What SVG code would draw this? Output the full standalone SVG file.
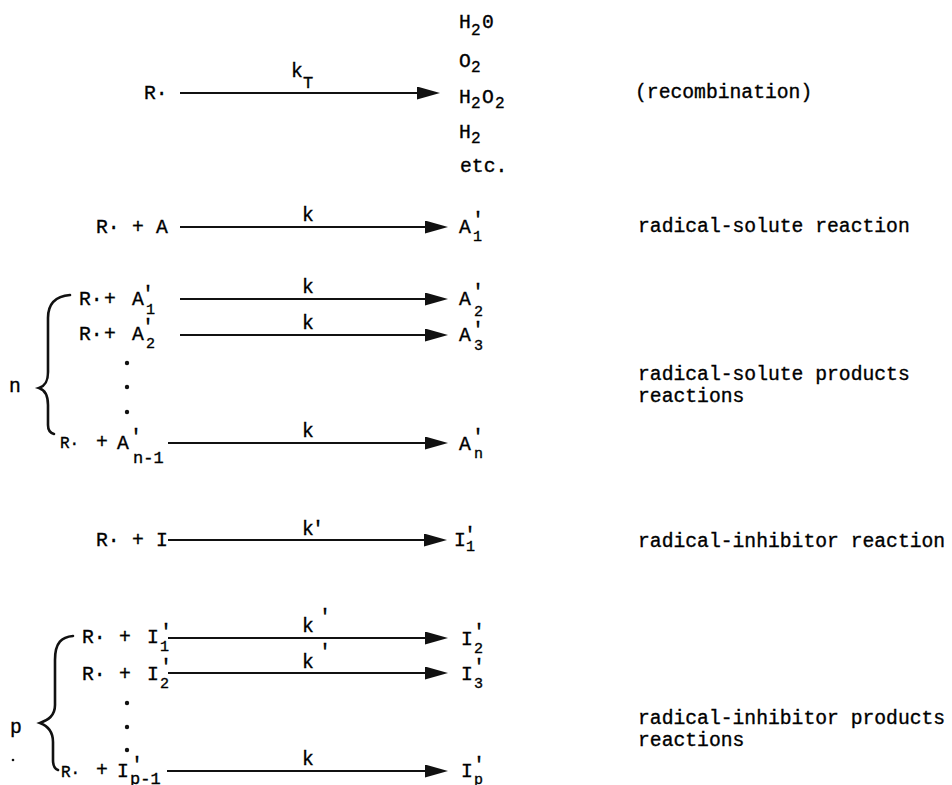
<svg xmlns="http://www.w3.org/2000/svg" width="952" height="785" viewBox="0 0 952 785">
<style>
text{font-family:"Liberation Mono","DejaVu Sans Mono",monospace;fill:#000;stroke:#000;stroke-width:0.35;font-size:19.7px}
.s{font-size:15px}
.m{font-size:17px}
.sm{font-size:16px}
.pr{font-size:20px}
.arr{stroke:#111;stroke-width:2.2;fill:none;marker-end:url(#ah)}
.br{stroke:#111;stroke-width:2.6;fill:none;stroke-linecap:round}
.dot{fill:#111}
</style>
<defs>
<marker id="ah" markerUnits="userSpaceOnUse" markerWidth="23" markerHeight="13" refX="3" refY="6.5" orient="auto">
<path d="M0,0 L23,6.5 L0,13 z" fill="#111"/>
</marker>
</defs>
<rect width="952" height="785" fill="#fff"/>

<g id="connectors">
<line class="arr" x1="180" y1="93" x2="420" y2="93"/>
<line class="arr" x1="180" y1="227" x2="428" y2="227"/>
<line class="arr" x1="180" y1="299" x2="428" y2="299"/>
<line class="arr" x1="180" y1="335" x2="428" y2="335"/>
<line class="arr" x1="168" y1="443" x2="428" y2="443"/>
<line class="arr" x1="168" y1="540" x2="427" y2="540"/>
<line class="arr" x1="168" y1="638" x2="428" y2="638"/>
<line class="arr" x1="168" y1="673" x2="428" y2="673"/>
<line class="arr" x1="167" y1="771" x2="428" y2="771"/>
</g>

<g id="rate-constants">
<text x="291" y="77">k</text><text class="m" x="303" y="88">T</text>
<text x="302" y="221">k</text>
<text x="302" y="293">k</text>
<text x="302" y="329">k</text>
<text x="302" y="437">k</text>
<text x="302" y="535">k</text><text class="pr" x="312" y="535">'</text>
<text x="302" y="632">k</text><text class="pr" x="319" y="623">'</text>
<text x="302" y="668">k</text><text class="pr" x="319" y="658">'</text>
<text x="302" y="765">k</text>
</g>

<g id="recombination-reactant"><text x="144" y="99">R·</text></g>
<g id="recombination-products">
<text x="459" y="28">H</text><text class="sm" x="471" y="35">2</text><text x="482" y="28">0</text>
<text x="459" y="67">O</text><text class="sm" x="471" y="72">2</text>
<text x="459" y="103">H</text><text class="sm" x="471" y="108">2</text><text x="482" y="103">O</text><text class="sm" x="495" y="108">2</text>
<text x="459" y="138">H</text><text class="sm" x="471" y="143">2</text>
<text x="460" y="172">etc.</text>
</g>
<g id="label-recombination"><text x="635" y="98">(recombination)</text></g>

<g id="solute-reactant">
<text x="96" y="233">R·</text><text x="132" y="233">+</text><text x="156" y="233">A</text>
</g>
<g id="solute-product">
<text x="459" y="233">A</text><text class="s" x="473" y="241">1</text><text class="pr" x="472" y="226">'</text>
</g>
<g id="label-solute"><text x="638" y="232">radical-solute reaction</text></g>

<g id="n-group">
<path class="br" d="M70,295 C58,296 48,301 48,318 L48,372 C48,382 45,386 39,388 C45,390 48,395 48,405 L48,425 C48,430 50,433 54,434"/>
<text x="9" y="392">n</text>
</g>
<g id="solute-products-reactant-1">
<text x="79" y="305">R·</text><text x="104" y="305">+</text><text x="132" y="305">A</text><text class="s" x="146" y="314">1</text><text class="pr" x="142" y="300">'</text>
</g>
<g id="solute-products-product-2">
<text x="459" y="305">A</text><text class="s" x="474" y="316">2</text><text class="pr" x="472" y="298">'</text>
</g>
<g id="solute-products-reactant-2">
<text x="79" y="340">R·</text><text x="104" y="340">+</text><text x="132" y="340">A</text><text class="s" x="146" y="348">2</text><text class="pr" x="142" y="333">'</text>
</g>
<g id="solute-products-product-3">
<text x="459" y="341">A</text><text class="s" x="474" y="350">3</text><text class="pr" x="472" y="336">'</text>
</g>
<g id="n-dots">
<circle class="dot" cx="127" cy="363" r="2.2"/><circle class="dot" cx="127" cy="387" r="2.2"/><circle class="dot" cx="127" cy="412" r="2.2"/>
</g>
<g id="solute-products-reactant-n">
<text class="sm" x="60" y="448">R·</text><text x="96" y="448">+</text><text x="117" y="449">A</text><text class="pr" x="130" y="443">'</text><text class="m" x="133" y="463">n-1</text>
</g>
<g id="solute-products-product-n">
<text x="459" y="450">A</text><text class="s" x="474" y="458">n</text><text class="pr" x="472" y="443">'</text>
</g>
<g id="label-solute-products"><text x="638" y="380">radical-solute products</text><text x="638" y="402">reactions</text></g>

<g id="inhibitor-reactant">
<text x="96" y="546">R·</text><text x="132" y="546">+</text><text x="156" y="546">I</text>
</g>
<g id="inhibitor-product">
<text x="454" y="546">I</text><text class="s" x="466" y="551">1</text><text class="pr" x="464" y="541">'</text>
</g>
<g id="label-inhibitor"><text x="638" y="547">radical-inhibitor reaction</text></g>

<g id="p-group">
<path class="br" d="M73,636 C62,637 55,642 55,660 L55,705 C55,716 48,720 40,723 C48,726 53,731 53,742 L53,760 C53,766 55,769 58,770"/>
<text x="10" y="733">p</text>
<circle class="dot" cx="13" cy="760" r="1.3"/>
</g>
<g id="inhibitor-products-reactant-1">
<text x="82" y="643">R·</text><text x="119" y="643">+</text><text x="147" y="643">I</text><text class="s" x="160" y="651">1</text><text class="pr" x="160" y="638">'</text>
</g>
<g id="inhibitor-products-product-2">
<text x="461" y="645">I</text><text class="s" x="474" y="653">2</text><text class="pr" x="473" y="638">'</text>
</g>
<g id="inhibitor-products-reactant-2">
<text x="82" y="680">R·</text><text x="119" y="680">+</text><text x="147" y="680">I</text><text class="s" x="160" y="688">2</text><text class="pr" x="160" y="673">'</text>
</g>
<g id="inhibitor-products-product-3">
<text x="461" y="680">I</text><text class="s" x="474" y="688">3</text><text class="pr" x="473" y="673">'</text>
</g>
<g id="p-dots">
<circle class="dot" cx="127" cy="703" r="2.2"/><circle class="dot" cx="127" cy="727" r="2.2"/><circle class="dot" cx="127" cy="750" r="2.2"/>
</g>
<g id="inhibitor-products-reactant-p">
<text class="sm" x="61" y="777">R·</text><text x="96" y="776">+</text><text x="117" y="777">I</text><text class="pr" x="131" y="771">'</text><text class="m" x="130" y="784">p-1</text>
</g>
<g id="inhibitor-products-product-p">
<text x="461" y="777">I</text><text class="s" x="474" y="784">p</text><text class="pr" x="473" y="771">'</text>
</g>
<g id="label-inhibitor-products"><text x="638" y="724">radical-inhibitor products</text><text x="638" y="746">reactions</text></g>
</svg>
